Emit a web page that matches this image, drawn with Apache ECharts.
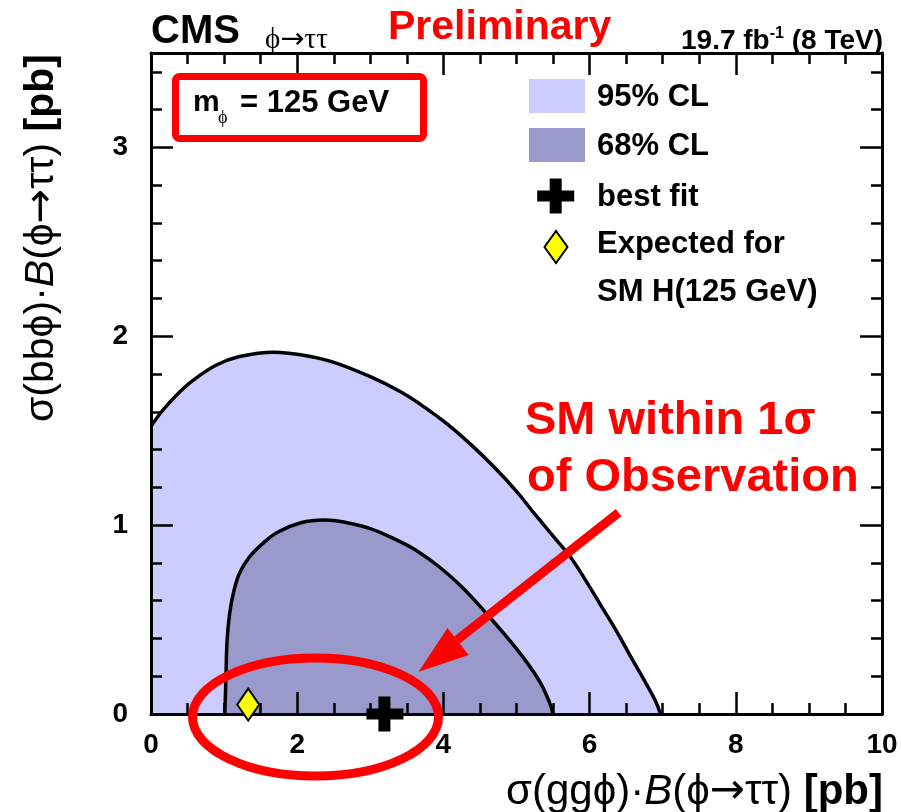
<!DOCTYPE html>
<html>
<head>
<meta charset="utf-8">
<script src="https://cdn.jsdelivr.net/npm/echarts@6/dist/echarts.min.js"></script>
<style>
  html, body { margin: 0; padding: 0; background: #fff; }
  #chart { width: 901px; height: 812px; }
</style>
</head>
<body>
<div id="chart"></div>
<script>
// 95% CL contour: sigma(gg phi)*B [pb] vs sigma(bb phi)*B [pb]
const cl95X = [0, 0.158, 0.368, 0.579, 0.895, 1.21, 1.684, 2.05, 2.47, 3.0, 3.42, 3.74, 4.05, 4.37, 4.68, 5.0, 5.26, 5.53, 5.74, 5.95, 6.16, 6.37, 6.56, 6.76, 6.9, 6.97];
const cl95Y = [1.523, 1.607, 1.696, 1.768, 1.848, 1.893, 1.916, 1.902, 1.866, 1.786, 1.705, 1.625, 1.536, 1.429, 1.313, 1.179, 1.054, 0.929, 0.830, 0.705, 0.571, 0.438, 0.305, 0.170, 0.070, 0];

// 68% CL contour
const cl68X = [1.01, 1.026, 1.04, 1.075, 1.13, 1.21, 1.34, 1.526, 1.737, 2.05, 2.37, 2.68, 3.0, 3.32, 3.63, 3.95, 4.26, 4.58, 4.84, 5.1, 5.32, 5.45, 5.5];
const cl68Y = [0, 0.205, 0.384, 0.53, 0.645, 0.745, 0.828, 0.902, 0.964, 1.013, 1.027, 1.013, 0.982, 0.929, 0.866, 0.777, 0.670, 0.536, 0.420, 0.295, 0.170, 0.063, 0];

// best-fit point and SM H(125) expectation
const bestFit = [3.2, 0];
const smExpected = [1.33, 0.05];

// axis ticks
const xMajor = [0, 2, 4, 6, 8, 10];
const xMinor = [0.5, 1, 1.5, 2.5, 3, 3.5, 4.5, 5, 5.5, 6.5, 7, 7.5, 8.5, 9, 9.5];
const yMajor = [0, 1, 2, 3];
const yMinor = [0.2, 0.4, 0.6, 0.8, 1.2, 1.4, 1.6, 1.8, 2.2, 2.4, 2.6, 2.8, 3.2, 3.4];

const legendNames = ['95% CL', '68% CL', 'best fit', 'Expected for', 'SM H(125 GeV)'];

const X_MIN = 0, X_MAX = 10, Y_MIN = 0, Y_MAX = 3.5;
const FONT = "'Liberation Sans', Arial, Helvetica, sans-serif";
const ARROW_FONT = "'DejaVu Sans', sans-serif";
const SERIF = "'Liberation Serif', 'DejaVu Serif', serif";
const RED = '#ff0000';

function makeAxis(position, min, max, ticks, tickLen, withLine, labels) {
  return {
    type: 'value',
    position: position,
    min: min,
    max: max,
    z: 10,
    axisLine: { show: withLine, onZero: false, lineStyle: { color: '#000', width: 3 } },
    splitLine: { show: false },
    axisTick: { show: true, inside: true, length: tickLen, customValues: ticks,
                lineStyle: { color: '#000', width: 2.5 } },
    axisLabel: labels ? {
      show: true, customValues: labels,
      margin: (position === 'bottom') ? 17 : 23,
      fontSize: 28, fontWeight: 'bold', color: '#000', fontFamily: FONT
    } : { show: false }
  };
}

const crossSymbol = 'path://M12,0L24,0L24,12L37,12L37,23L24,23L24,35L12,35L12,23L0,23L0,12L12,12Z';

const chart = echarts.init(document.getElementById('chart'), null, { renderer: 'canvas' });

function textEl(x, y, text, size, opts) {
  opts = opts || {};
  return {
    type: 'text', x: x, y: y, z: 100, rotation: opts.rotation || 0,
    style: {
      text: text,
      fontSize: size,
      fontWeight: opts.weight || 'bold',
      fontFamily: opts.family || FONT,
      fontStyle: opts.style || 'normal',
      fill: opts.color || '#000',
      align: opts.align || 'left',
      verticalAlign: opts.valign || 'middle',
      rich: opts.rich
    }
  };
}

const titleRich = (size) => ({
  n: { fontSize: size, fontFamily: FONT, fill: '#000' },
  a: { fontSize: size, fontFamily: ARROW_FONT, fill: '#000' },
  i: { fontSize: size, fontFamily: FONT, fontStyle: 'italic', fill: '#000' },
  b: { fontSize: size, fontFamily: FONT, fontWeight: 'bold', fill: '#000' }
});

const graphics = [
  // header
  textEl(151, 32, 'CMS', 40),
  {
    type: 'text', x: 265, y: 40, z: 100,
    style: {
      text: '{s|ϕ}{a|→}{s|ττ}', align: 'left', verticalAlign: 'middle',
      rich: {
        s: { fontSize: 29, fontFamily: SERIF, fill: '#000' },
        a: { fontSize: 29, fontFamily: ARROW_FONT, fill: '#000' }
      }
    }
  },
  textEl(388, 28, 'Preliminary', 41, { color: RED }),
  {
    type: 'text', x: 883, y: 41, z: 100,
    style: {
      text: '{a|19.7 fb}{s|-1}{a| (8 TeV)}',
      align: 'right', verticalAlign: 'middle',
      rich: {
        a: { fontSize: 28, fontWeight: 'bold', fontFamily: FONT, fill: '#000', lineHeight: 30 },
        s: { fontSize: 16, fontWeight: 'bold', fontFamily: FONT, fill: '#000', verticalAlign: 'top', lineHeight: 30 }
      }
    }
  },

  // mass box
  { type: 'rect', z: 100, shape: { x: 175.5, y: 76.5, width: 248, height: 62, r: 4 },
    style: { fill: 'none', stroke: RED, lineWidth: 7 } },
  textEl(193, 103, 'm', 30),
  textEl(218, 118, 'ϕ', 18, { weight: 'normal', family: SERIF }),
  textEl(240, 103, '= 125 GeV', 31),

  // legend
  { type: 'rect', z: 100, shape: { x: 529, y: 79, width: 56, height: 34 }, style: { fill: '#ccccff' } },
  { type: 'rect', z: 100, shape: { x: 529, y: 128, width: 56, height: 34 }, style: { fill: '#9999cc' } },
  { type: 'polygon', z: 100, shape: { points: [
      [549.7, 178.5], [561.7, 178.5], [561.7, 190.5], [574.2, 190.5], [574.2, 201.5], [561.7, 201.5],
      [561.7, 213.5], [549.7, 213.5], [549.7, 201.5], [537.2, 201.5], [537.2, 190.5], [549.7, 190.5]] },
    style: { fill: '#000' } },
  { type: 'polygon', z: 100, shape: { points: [[556, 231], [567.5, 247], [556, 263], [544.5, 247]] },
    style: { fill: '#ffff00', stroke: '#000', lineWidth: 2 } },
  textEl(597, 97, legendNames[0], 31),
  textEl(597, 146, legendNames[1], 31),
  textEl(597, 197, legendNames[2], 31),
  textEl(597, 244, legendNames[3], 31),
  textEl(597, 292, legendNames[4], 31),

  // axis titles
  textEl(883, 792, '{n|σ(ggϕ)·}{i|B}{n|(ϕ}{a|→}{n|ττ) }{b|[pb]}', 42, { align: 'right', rich: titleRich(42) }),
  textEl(42, 422, '{n|σ(bbϕ)·}{i|B}{n|(ϕ}{a|→}{n|ττ) }{b|[pb]}', 41, { rotation: Math.PI / 2, rich: titleRich(41) }),

  // annotation
  textEl(525, 421, 'SM within 1σ', 47, { color: RED }),
  textEl(527, 478, 'of Observation', 47, { color: RED }),
  { type: 'line', z: 100, shape: { x1: 618.6, y1: 512.6, x2: 457, y2: 640 },
    style: { stroke: RED, lineWidth: 9 } },
  { type: 'polygon', z: 100, shape: { points: [[418.7, 671.8], [447.5, 628], [468.7, 655]] },
    style: { fill: RED } },
  { type: 'ellipse', z: 100, shape: { cx: 315.5, cy: 717, rx: 123, ry: 59 },
    style: { fill: 'none', stroke: RED, lineWidth: 9 } }
];

chart.setOption({
  animation: false,
  backgroundColor: '#fff',
  grid: { left: 151, top: 53, width: 731, height: 661, containLabel: false, outerBoundsMode: 'none' },
  xAxis: [
    makeAxis('bottom', X_MIN, X_MAX, xMajor, 22, true, xMajor),
    makeAxis('bottom', X_MIN, X_MAX, xMinor, 11, false, null),
    makeAxis('top', X_MIN, X_MAX, xMajor, 22, true, null),
    makeAxis('top', X_MIN, X_MAX, xMinor, 11, false, null)
  ],
  yAxis: [
    makeAxis('left', Y_MIN, Y_MAX, yMajor, 22, true, yMajor),
    makeAxis('left', Y_MIN, Y_MAX, yMinor, 11, false, null),
    makeAxis('right', Y_MIN, Y_MAX, yMajor, 22, true, null),
    makeAxis('right', Y_MIN, Y_MAX, yMinor, 11, false, null)
  ],
  series: [
    {
      type: 'line', name: legendNames[0], xAxisIndex: 0, yAxisIndex: 0, z: 2,
      data: cl95X.map((x, i) => [x, cl95Y[i]]),
      smooth: 0.4, showSymbol: false, silent: true,
      lineStyle: { color: '#000', width: 3.5 },
      areaStyle: { color: '#ccccff', opacity: 1 }
    },
    {
      type: 'line', name: legendNames[1], xAxisIndex: 0, yAxisIndex: 0, z: 3,
      data: cl68X.map((x, i) => [x, cl68Y[i]]),
      smooth: 0.4, showSymbol: false, silent: true,
      lineStyle: { color: '#000', width: 3.5 },
      areaStyle: { color: '#9999cc', opacity: 1 }
    },
    {
      type: 'scatter', name: legendNames[2], xAxisIndex: 0, yAxisIndex: 0, z: 12, clip: false,
      data: [bestFit], symbol: crossSymbol, symbolSize: [37, 35],
      itemStyle: { color: '#000', opacity: 1 }
    },
    {
      type: 'scatter', name: 'SM', xAxisIndex: 0, yAxisIndex: 0, z: 12, clip: false,
      data: [smExpected], symbol: 'diamond', symbolSize: [22, 32],
      itemStyle: { color: '#ffff00', borderColor: '#000', borderWidth: 2, opacity: 1 }
    }
  ],
  graphic: graphics
});
</script>
</body>
</html>
